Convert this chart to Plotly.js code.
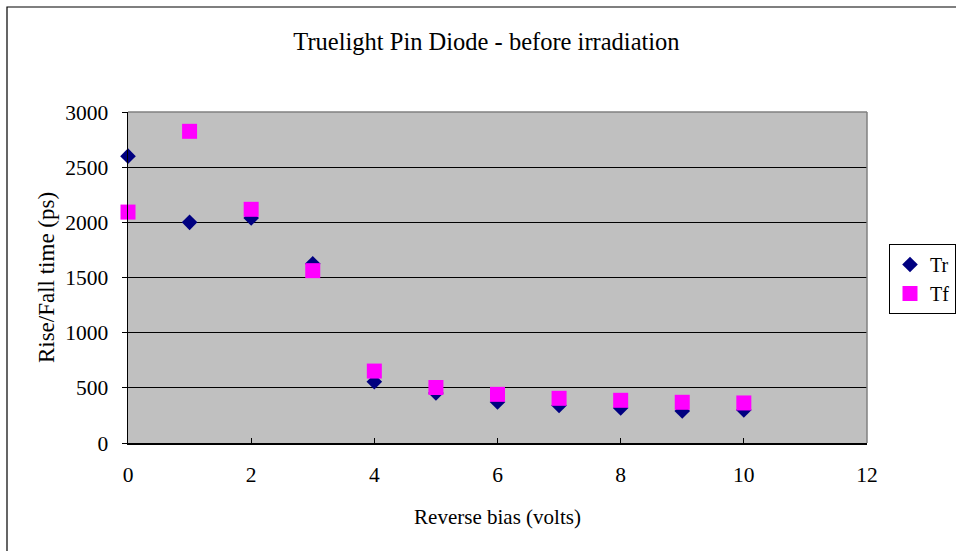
<!DOCTYPE html>
<html>
<head>
<meta charset="utf-8">
<script src="https://cdn.plot.ly/plotly-3.0.1.min.js"></script>
<style>html,body{margin:0;padding:0;background:#fff;}#chart{width:956px;height:551px;}</style>
</head>
<body>
<div id="chart"></div>
<script>
const biasVolts = [0, 1, 2, 3, 4, 5, 6, 7, 8, 9, 10];
const riseTimeTr = [2600, 2000, 2040, 1625, 555, 453, 372, 340, 317, 290, 299];
const fallTimeTf = [2093, 2825, 2118, 1562, 652, 503, 441, 405, 387, 369, 363];
const xTickVals = [0, 2, 4, 6, 8, 10, 12];
const yTickVals = [0, 500, 1000, 1500, 2000, 2500, 3000];

const font = "Liberation Serif, Times New Roman, serif";

const traces = [
  {
    x: biasVolts, y: riseTimeTr, name: "Tr", type: "scatter", mode: "markers",
    cliponaxis: false,
    marker: {symbol: "diamond", size: 12, color: "#000080", line: {width: 0}}
  },
  {
    x: biasVolts, y: fallTimeTf, name: "Tf", type: "scatter", mode: "markers",
    cliponaxis: false,
    marker: {symbol: "square", size: 15, color: "#FF00FF", line: {width: 0}}
  }
];

const layout = {
  width: 956, height: 551,
  paper_bgcolor: "#ffffff",
  plot_bgcolor: "#C0C0C0",
  margin: {l: 128, r: 89, t: 112, b: 108},
  font: {family: font, size: 21, color: "#000"},
  title: {text: "Truelight Pin Diode - before irradiation", font: {family: font, size: 24.5, color: "#000"},
          x: 486.5 / 956, xref: "container", xanchor: "center", y: 1 - 41/551, yanchor: "middle"},
  xaxis: {
    range: [0, 12], tickvals: xTickVals, ticktext: xTickVals.map(String),
    showgrid: false, zeroline: false, showline: true, linecolor: "#000", linewidth: 1.5,
    ticks: "inside", ticklen: 5, tickcolor: "#000", ticklabelstandoff: 12,
    tickfont: {family: font, size: 21.5},
    title: {text: "Reverse bias (volts)", font: {family: font, size: 21}, standoff: 23}
  },
  yaxis: {
    range: [0, 3000], tickvals: yTickVals, ticktext: yTickVals.map(String),
    showgrid: true, gridcolor: "#000", gridwidth: 1,
    zeroline: false, showline: true, linecolor: "#000", linewidth: 1.5,
    ticks: "outside", ticklen: 5, tickcolor: "#000", ticklabelstandoff: 9,
    tickfont: {family: font, size: 21.5},
    title: {text: "Rise/Fall time (ps)", font: {family: font, size: 23}, standoff: 4}
  },
  showlegend: true,
  legend: {
    xref: "container", yref: "container",
    x: 889 / 956, xanchor: "left",
    y: 1 - 244 / 551, yanchor: "top",
    bgcolor: "#ffffff", bordercolor: "#000", borderwidth: 1,
    font: {family: font, size: 20}, itemwidth: 30, tracegroupgap: 2
  },
  shapes: [
    {type: "line", xref: "paper", yref: "paper", x0: 0, x1: 1, y0: 1, y1: 1, line: {color: "#808080", width: 1.5}},
    {type: "line", xref: "paper", yref: "paper", x0: 1, x1: 1, y0: 0, y1: 1, line: {color: "#808080", width: 1.5}},
    {type: "rect", xref: "paper", yref: "paper", x0: (7 - 128) / 739, x1: 1.2, y0: -0.5, y1: (443 - 7) / 331, line: {color: "#000", width: 1.2}}
  ]
};

Plotly.newPlot("chart", traces, layout, {displayModeBar: false, staticPlot: true});
</script>
</body>
</html>
